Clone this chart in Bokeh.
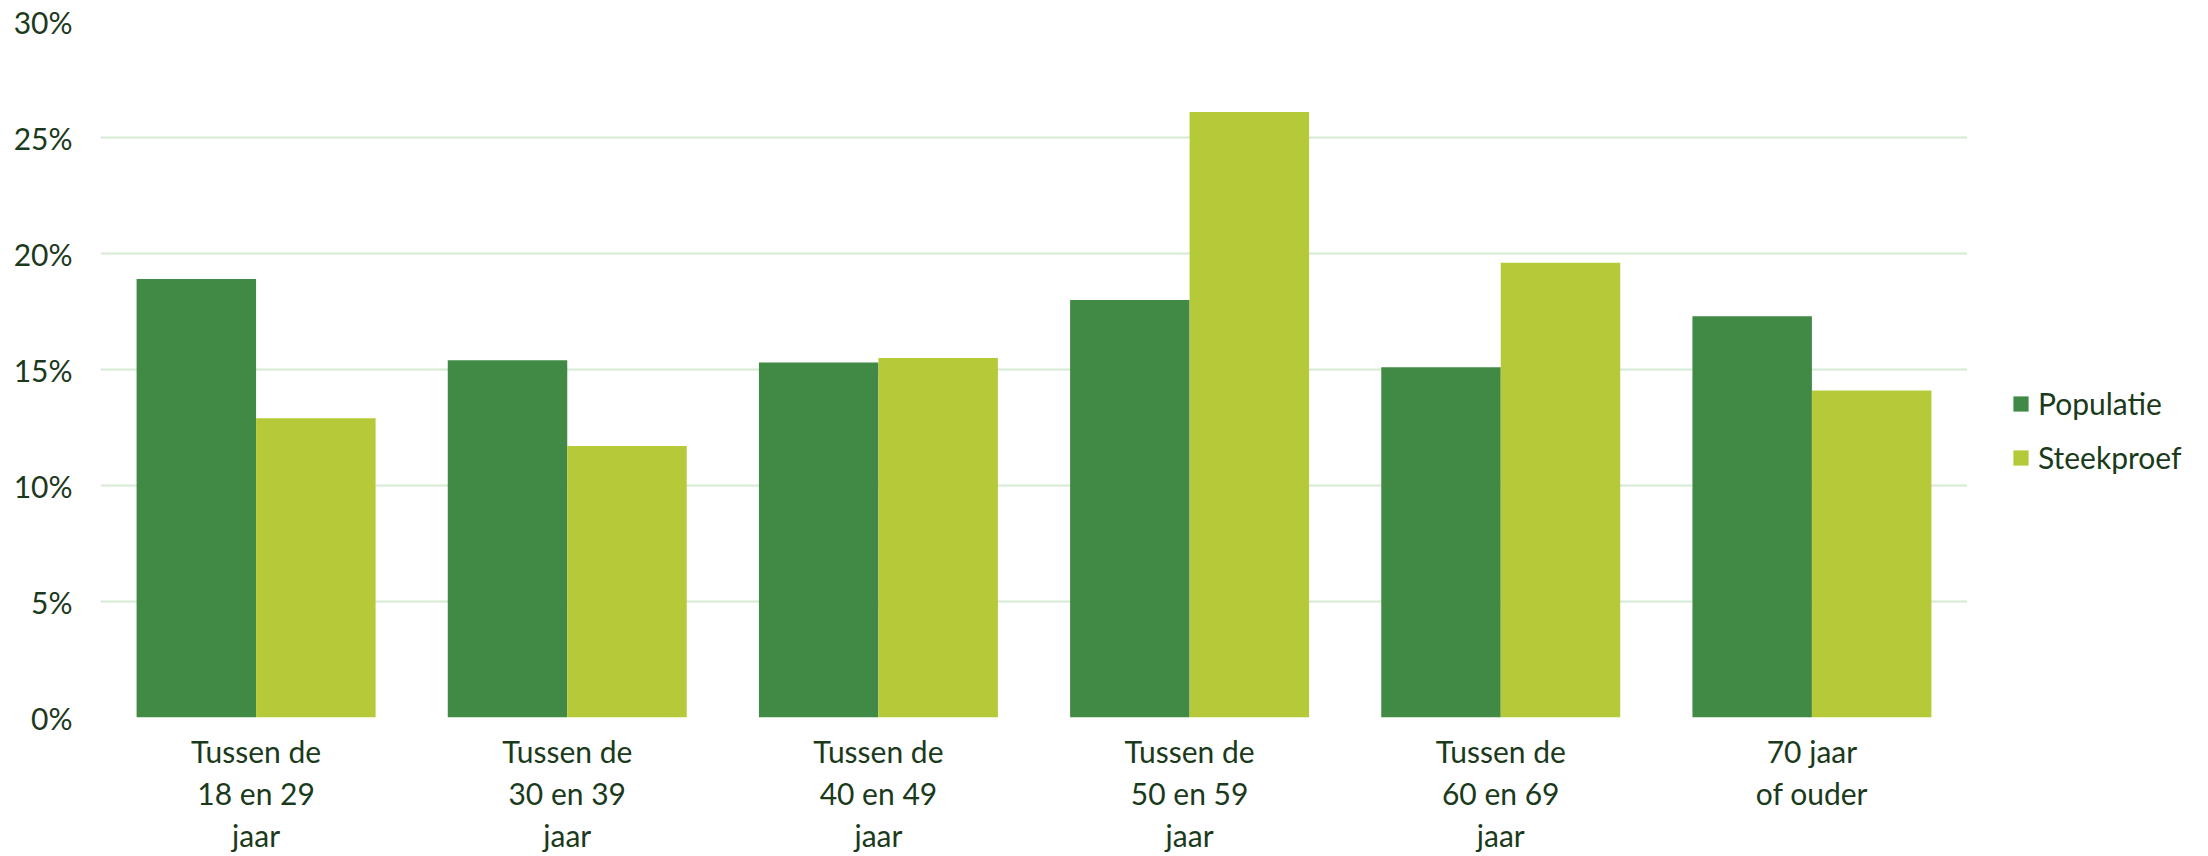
import numpy as np
from bokeh.plotting import figure
from bokeh.layouts import row
from bokeh.models import FactorRange, Range1d, FixedTicker, Legend, LegendItem, ColumnDataSource
from bokeh.transform import dodge
from bokeh.embed import file_html
from bokeh.resources import INLINE

categories = [
    "Tussen de\n18 en 29\njaar",
    "Tussen de\n30 en 39\njaar",
    "Tussen de\n40 en 49\njaar",
    "Tussen de\n50 en 59\njaar",
    "Tussen de\n60 en 69\njaar",
    "70 jaar\nof ouder",
]
populatie = [18.9, 15.4, 15.3, 18.0, 15.1, 17.3]
steekproef = [12.9, 11.7, 15.5, 26.1, 19.6, 14.1]
y_ticks = [0, 5, 10, 15, 20, 25, 30]
y_tick_labels = ["0%", "5%", "10%", "15%", "20%", "25%", "30%"]
series_names = ["Populatie", "Steekproef"]

FONT = "Lato"
TEXT = "#1b3a1c"
C_POP = "#418a45"
C_STK = "#b6c938"
GRID = "#d5ead4"

source = ColumnDataSource(dict(cat=categories, pop=populatie, stk=steekproef))

p = figure(
    x_range=FactorRange(factors=categories, range_padding=0),
    y_range=Range1d(0, 30),
    width=1967, height=856,
    min_border_left=100, min_border_right=0, min_border_top=21, min_border_bottom=137,
    toolbar_location=None, output_backend="svg",
)
p.outline_line_color = None
p.background_fill_color = "white"

r1 = p.vbar(x=dodge("cat", -0.192, range=p.x_range), top="pop", width=0.384,
            source=source, fill_color=C_POP, line_color=None)
r2 = p.vbar(x=dodge("cat", 0.192, range=p.x_range), top="stk", width=0.384,
            source=source, fill_color=C_STK, line_color=None)

p.xgrid.grid_line_color = None
p.ygrid.grid_line_color = GRID
p.ygrid.grid_line_width = 2
p.ygrid.level = "underlay"

p.yaxis.ticker = FixedTicker(ticks=y_ticks)
p.yaxis.major_label_overrides = {t: l for t, l in zip(y_ticks, y_tick_labels)}
for ax in (p.xaxis, p.yaxis):
    ax.axis_line_color = None
    ax.major_tick_line_color = None
    ax.minor_tick_line_color = None
    ax.major_tick_out = 0
    ax.major_tick_in = 0
    ax.major_label_text_font = FONT
    ax.major_label_text_font_size = "30px"
    ax.major_label_text_color = TEXT
p.yaxis.major_label_standoff = 28
p.xaxis.major_label_standoff = 15
p.xaxis.major_label_text_line_height = 1.18

# legend panel (separate figure to the right of the plot area)
lg = figure(
    width=241, height=856, x_range=Range1d(0, 1), y_range=Range1d(0, 1),
    x_axis_type=None, y_axis_type=None,
    min_border_left=0, min_border_right=0, min_border_top=0, min_border_bottom=0,
    toolbar_location=None, output_backend="svg",
)
lg.outline_line_color = None
lg.grid.visible = False
proxy = ColumnDataSource(dict(x=np.array([0.5]), top=np.array([np.nan])))
k1 = lg.vbar(x="x", top="top", width=0.5, source=proxy, fill_color=C_POP, line_color=None)
k2 = lg.vbar(x="x", top="top", width=0.5, source=proxy, fill_color=C_STK, line_color=None)

legend = Legend(
    items=[LegendItem(label=series_names[0], renderers=[k1]),
           LegendItem(label=series_names[1], renderers=[k2])],
    location=(44, 242),
    glyph_width=19, glyph_height=19, label_standoff=8, spacing=18,
    padding=0, margin=0, border_line_color=None, background_fill_alpha=0,
    label_text_font=FONT, label_text_font_size="30px", label_text_color=TEXT,
)
lg.add_layout(legend)

layout = row(p, lg, spacing=0)
open("out.html", "w").write(file_html(layout, INLINE))
